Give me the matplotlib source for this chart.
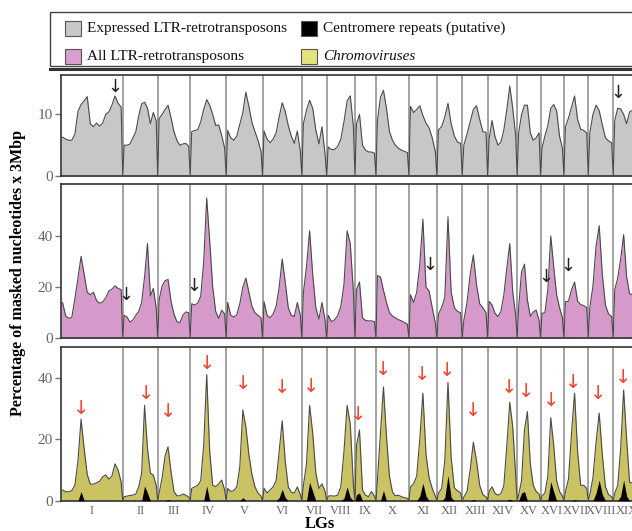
import numpy as np
import matplotlib
matplotlib.use('Agg')
import matplotlib.pyplot as plt
from matplotlib.patches import Rectangle
from matplotlib.transforms import blended_transform_factory

plt.rcParams['font.family'] = ['Liberation Serif', 'DejaVu Serif']

# ── data ────────────────────────────────────────────────────
LG_NAMES = ['I', 'II', 'III', 'IV', 'V', 'VI', 'VII', 'VIII', 'IX', 'X',
            'XI', 'XII', 'XIII', 'XIV', 'XV', 'XVI', 'XVII', 'XVIII', 'XIX']
LG_LENGTHS = [30.9, 17.5, 16.3, 18.0, 18.2, 19.7, 12.4, 14.2, 10.5, 16.5,
              14.0, 12.7, 12.7, 14.8, 11.7, 11.7, 12.2, 12.5, 13.4]

# window values along each LG (evenly spaced)
EXPRESSED = [
    [6.3, 6.0, 5.8, 5.8, 6.8, 10.5, 11.6, 12.2, 12.9, 8.5, 8.0, 8.6, 8.1, 8.6, 10.0, 10.4, 11.5, 13.0, 11.8, 11.2],
    [5.0, 5.0, 5.2, 6.2, 7.2, 9.8, 11.7, 12.0, 11.0, 8.5, 10.3, 9.0],
    [9.3, 10.0, 10.8, 11.5, 9.5, 7.2, 5.8, 5.0, 5.2, 5.3, 4.8],
    [7.2, 7.4, 7.5, 8.8, 10.8, 12.4, 11.5, 10.0, 8.2, 8.3, 6.6, 4.5],
    [7.4, 6.2, 5.8, 6.5, 8.4, 10.3, 13.6, 11.3, 8.7, 7.2, 5.8, 4.0],
    [7.3, 6.0, 5.4, 6.0, 7.0, 9.6, 11.9, 10.5, 8.2, 6.5, 5.3, 7.3, 4.0],
    [8.5, 10.7, 12.3, 11.0, 7.5, 5.2, 8.0, 3.5],
    [4.7, 4.3, 4.3, 4.8, 6.0, 8.8, 12.2, 13.0, 8.0],
    [8.5, 10.0, 5.0, 4.2, 3.9, 3.9, 3.7],
    [9.0, 12.8, 13.9, 11.0, 7.2, 5.8, 5.0, 4.5, 4.2, 4.0, 3.8],
    [11.3, 10.3, 10.8, 11.4, 9.8, 8.6, 7.8, 6.2, 4.0],
    [7.5, 8.0, 9.6, 11.8, 8.5, 6.5, 5.5, 5.3],
    [5.0, 6.8, 8.8, 10.8, 11.4, 9.2, 7.2, 7.1],
    [6.0, 9.0, 6.4, 5.0, 5.5, 7.5, 10.8, 14.6, 11.0, 6.5],
    [7.0, 10.0, 11.5, 11.5, 7.0, 5.8, 6.2, 7.0],
    [4.5, 6.5, 8.2, 11.0, 11.6, 10.6, 6.5, 4.5],
    [8.0, 9.4, 11.2, 13.0, 9.2, 7.6, 7.4, 7.0],
    [7.0, 10.0, 11.5, 10.6, 8.3, 6.2, 5.7, 5.4],
    [9.0, 11.0, 10.9, 10.0, 8.5, 10.4, 10.7, 9.5, 7.0],
]

ALL_LTR = [
    [14.0, 8.8, 7.8, 8.2, 15.5, 23.5, 32.0, 25.0, 18.0, 17.0, 18.0, 14.8, 13.7, 14.2, 15.8, 18.5, 19.2, 20.5, 19.5, 19.0],
    [9.0, 8.3, 6.3, 7.2, 9.0, 10.5, 14.0, 24.0, 37.0, 16.5, 19.5, 12.0],
    [15.0, 20.5, 22.5, 23.0, 14.5, 9.5, 6.5, 6.0, 9.0, 10.3, 10.0],
    [13.5, 13.0, 13.7, 16.5, 30.0, 54.8, 38.0, 20.0, 10.5, 7.8, 11.0, 9.5],
    [14.0, 9.0, 8.3, 9.2, 13.5, 20.0, 23.5, 18.0, 12.5, 10.0, 9.0, 8.0],
    [14.3, 9.0, 8.0, 9.5, 12.5, 20.0, 31.0, 22.0, 12.0, 9.0, 8.5, 14.0, 9.0],
    [18.0, 28.0, 42.0, 25.0, 12.0, 7.5, 14.0, 7.0],
    [9.0, 6.5, 7.2, 8.8, 12.5, 21.0, 42.0, 37.0, 18.0],
    [19.0, 22.0, 8.0, 7.0, 6.8, 6.8, 6.5],
    [24.5, 24.0, 18.8, 14.0, 10.0, 8.7, 8.0, 7.3, 6.8, 6.2, 5.5],
    [17.0, 14.0, 18.0, 29.0, 46.5, 20.0, 18.5, 12.0, 6.0],
    [9.5, 12.0, 16.0, 47.5, 18.0, 12.0, 10.5, 10.0],
    [7.0, 14.0, 25.0, 32.6, 21.0, 13.5, 12.0, 10.0],
    [14.5, 13.0, 9.8, 8.5, 10.5, 17.0, 27.5, 37.0, 18.0, 9.0],
    [12.0, 26.0, 29.0, 15.0, 8.6, 10.3, 11.0, 7.0],
    [9.8, 10.0, 19.0, 40.0, 28.0, 17.0, 12.0, 8.0],
    [14.3, 14.5, 19.0, 22.0, 14.5, 13.2, 12.8, 12.0],
    [12.0, 20.5, 36.0, 44.0, 25.0, 13.0, 9.5, 8.5],
    [19.0, 23.5, 31.0, 40.5, 24.0, 17.5, 17.0, 15.0, 10.0],
]

CHROMO = [
    [3.5, 2.9, 2.9, 3.3, 5.0, 13.0, 26.5, 17.0, 8.5, 5.4, 5.4, 5.8, 6.3, 7.8, 8.4, 7.0, 8.0, 12.0, 10.0, 6.0],
    [1.3, 1.5, 1.7, 1.8, 2.2, 4.5, 9.0, 31.0, 17.0, 9.0, 8.3, 5.0],
    [2.5, 7.5, 14.5, 17.5, 9.5, 3.0, 1.6, 1.6, 2.2, 1.8, 1.2],
    [4.0, 4.5, 5.0, 6.5, 18.0, 41.0, 16.0, 5.0, 4.6, 5.5, 6.7, 3.5],
    [4.0, 3.0, 3.3, 4.5, 11.0, 29.5, 24.0, 15.0, 8.5, 4.5, 2.5, 1.5],
    [4.0, 2.5, 3.5, 4.5, 6.5, 16.0, 26.0, 13.0, 4.5, 2.8, 2.5, 4.5, 2.0],
    [5.0, 12.0, 31.0, 22.0, 9.0, 4.0, 5.5, 3.0],
    [1.5, 1.6, 1.5, 1.8, 4.5, 16.0, 31.0, 25.0, 5.0],
    [18.0, 23.0, 3.5, 1.8, 1.3, 3.0, 1.5],
    [7.0, 22.0, 37.0, 21.0, 8.0, 2.8, 1.6, 1.8, 1.3, 1.0, 0.8],
    [4.5, 5.5, 8.0, 20.0, 35.0, 15.0, 7.5, 4.0, 1.5],
    [2.5, 4.0, 13.0, 38.5, 14.0, 4.2, 3.2, 2.5],
    [1.2, 3.0, 10.0, 19.0, 13.0, 5.0, 2.0, 1.2],
    [3.0, 4.5, 2.4, 1.8, 2.3, 5.0, 18.0, 32.0, 24.0, 8.0],
    [2.0, 6.5, 23.0, 29.0, 12.0, 5.0, 3.0, 2.2],
    [1.5, 2.5, 8.0, 27.0, 18.0, 6.5, 3.0, 1.5],
    [3.0, 7.0, 22.0, 35.0, 16.0, 5.0, 5.0, 4.0],
    [2.0, 7.5, 19.0, 28.5, 15.0, 4.5, 2.0, 1.3],
    [2.4, 5.0, 17.0, 36.0, 20.0, 6.0, 5.7, 5.0, 3.0],
]

CENTROMERE = [
    [0, 0, 0, 0, 0, 0, 3.0, 0, 0, 0, 0, 0, 0, 0, 0, 0, 0, 0, 0, 0],
    [0, 0, 0, 0, 0, 0, 0, 4.8, 2.5, 0, 0, 0],
    [0, 0, 0, 0.4, 0, 0, 0, 0, 0, 0, 0],
    [0, 0, 0, 0, 0, 4.8, 0, 0, 0, 0, 0, 0],
    [0, 0, 0, 0, 0, 1.0, 0, 0, 0, 0, 0, 0],
    [0, 0, 0, 0, 0, 1.0, 3.7, 1.0, 0, 0, 0, 0, 0],
    [0, 0, 6.0, 3.0, 0, 0, 0, 0],
    [0, 0, 0, 0, 0, 0.8, 4.5, 1.0, 0],
    [2.0, 2.5, 0, 0, 0, 0, 0],
    [0, 0, 3.3, 0, 0, 0, 0, 0, 0, 0, 0],
    [0, 0, 0, 1.5, 5.7, 1.5, 0, 0, 0],
    [0, 0, 1.0, 8.2, 1.0, 0, 0, 0],
    [0, 0, 0, 0.4, 0, 0, 0, 0],
    [0, 0, 0, 0, 0, 0, 0, 0.5, 0, 0],
    [0, 2.5, 3.0, 0, 0, 0, 0, 0],
    [0, 0, 0, 6.2, 3.0, 0, 0, 0],
    [0, 0, 0, 0.3, 0, 0, 0, 0],
    [0, 0, 2.5, 6.7, 2.0, 0, 0, 0],
    [0, 0, 1.5, 6.7, 1.5, 0, 0, 0, 0],
]

# arrows: (LG index, fraction along LG, value)
ARROWS_EXPRESSED = [(0, 0.87, 14.5), (18, 0.19, 13.5)]
ARROWS_ALL = [(1, 0.09, 16.9), (3, 0.11, 20.4), (10, 0.75, 28.6),
              (15, 0.21, 24.1), (16, 0.15, 28.2)]
ARROWS_CHROMO = [(0, 0.335, 30.0), (1, 0.666, 34.9), (2, 0.325, 28.9),
                 (3, 0.472, 44.7), (4, 0.467, 38.0), (5, 0.509, 36.9),
                 (6, 0.393, 37.3), (8, 0.157, 28.2), (9, 0.221, 42.7),
                 (10, 0.489, 41.1), (11, 0.423, 42.2), (12, 0.433, 29.5),
                 (13, 0.72, 36.7), (14, 0.40, 35.4), (15, 0.44, 32.7),
                 (16, 0.38, 38.4), (17, 0.40, 34.9), (18, 0.375, 40.1)]

LEGEND_LABELS = ['Expressed LTR-retrotransposons', 'Centromere repeats (putative)',
                 'All LTR-retrotransposons', 'Chromoviruses']

# ── helpers ─────────────────────────────────────────────────
starts = np.concatenate([[0], np.cumsum(LG_LENGTHS)[:-1]])
total = float(np.sum(LG_LENGTHS))


def profile(series):
    xs, ys = [0.0], [series[0][0]]
    for k, vals in enumerate(series):
        s, L, n = starts[k], LG_LENGTHS[k], len(vals)
        if k > 0:
            xs.append(s); ys.append(0)
        xs += list(s + (np.arange(n) + 0.5) * L / n)
        ys += list(vals)
        xs.append(s + L); ys.append(0)
    return np.array(xs), np.array(ys)


W, H = 632, 531
fig = plt.figure(figsize=(W / 100, H / 100), dpi=100)

GREY = '#c7c7c7'
PINK = '#d59ac9'
OLIVE = '#cac263'

panels = [
    # top, bottom (px), series, fill, ymax, ticks, arrows, arrow colour
    (75, 176, EXPRESSED, GREY, 16.4, [0, 10], ARROWS_EXPRESSED, '#222222'),
    (184, 338.3, ALL_LTR, PINK, 60.3, [0, 20, 40], ARROWS_ALL, '#222222'),
    (347, 500.7, CHROMO, OLIVE, 50, [0, 20, 40], ARROWS_CHROMO, '#f0452f'),
]

axes = []
for top, bottom, series, fill, ymax, ticks, arrows, acol in panels:
    ax = fig.add_axes([61 / W, 1 - bottom / H, (640 - 61) / W, (bottom - top) / H])
    ax.set_xlim(0, total)
    ax.set_ylim(0, ymax)
    for b in starts[1:]:
        ax.axvline(b, color='#9c9c9c', lw=1.3, zorder=1)
    x, y = profile(series)
    ax.fill_between(x, y, color=fill, lw=0, zorder=2)
    ax.plot(x, y, color='#4a4a4a', lw=0.8, zorder=3)
    for k, frac, v in arrows:
        red = acol != '#222222'
        ax.text(starts[k] + frac * LG_LENGTHS[k], v, '\u2193', ha='center', va='center',
                color=acol, fontsize=14 if red else 13, family=['DejaVu Sans'],
                zorder=5)
    ax.set_xticks([])
    ax.set_yticks(ticks)
    ax.tick_params(axis='y', length=4, width=1, color='#777777',
                   labelcolor='#666666', labelsize=11, pad=2)
    for side in ['left', 'top', 'bottom']:
        ax.spines[side].set_color('#333333')
        ax.spines[side].set_linewidth(1.2)
    ax.spines['right'].set_visible(False)
    axes.append(ax)

# centromere repeats on the chromovirus panel
ax3 = axes[2]
xc, yc = profile(CENTROMERE)
ax3.fill_between(xc, yc, color='black', lw=0, zorder=4)

# LG labels
trans = blended_transform_factory(ax3.transData, ax3.transAxes)
for k, name in enumerate(LG_NAMES):
    ax3.text(starts[k] + LG_LENGTHS[k] / 2, -0.065, name, transform=trans,
             ha='center', va='center', fontsize=9, color='#666666')

# ── overlay for legend and shared labels (pixel coords) ─────
ov = fig.add_axes([0, 0, 1, 1], zorder=-1)
ov.set_xlim(0, W)
ov.set_ylim(H, 0)
ov.axis('off')

ov.add_patch(Rectangle((50, 12), 620, 54, fill=False, edgecolor='#444444', lw=1))
ov.plot([50, W], [69, 69], color='#333333', lw=2.2)

swatches = [(65, 21, GREY), (301, 21, 'black'), (65, 49, '#d99fcd'), (301, 49, '#e4e27c')]
for (sx, sy, col), label in zip(swatches, LEGEND_LABELS):
    ov.add_patch(Rectangle((sx, sy), 16, 15, facecolor=col, edgecolor='#555555', lw=0.8))
    ov.text(sx + 22, sy + 7.5, label, ha='left', va='center', fontsize=11,
            style='italic' if label == 'Chromoviruses' else 'normal', color='#111111')

ov.text(18, 273, 'Percentage of masked nucleotides x 3Mbp', rotation=90,
        ha='center', va='center', fontsize=11.5, fontweight='bold')
ov.text(320, 524, 'LGs', ha='center', va='center', fontsize=12, fontweight='bold')

fig.savefig('out.png', dpi=100)
